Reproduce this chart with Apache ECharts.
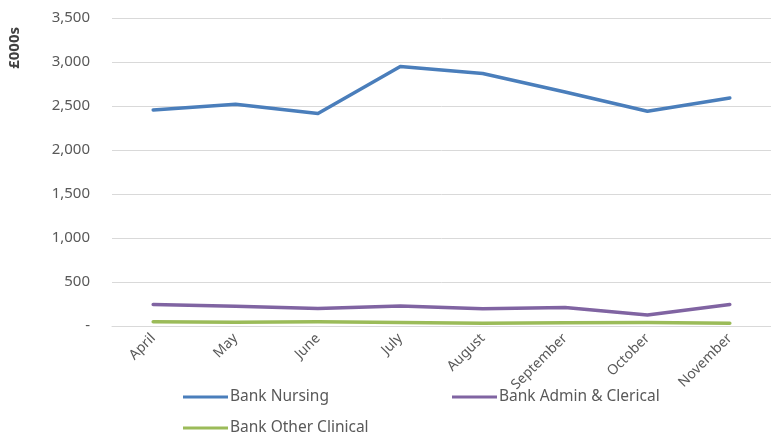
<!DOCTYPE html>
<html>
<head>
<meta charset="utf-8">
<script src="https://cdn.jsdelivr.net/npm/echarts@6/dist/echarts.min.js"></script>
<style>
  html, body { margin: 0; padding: 0; background: #ffffff; }
  #chart { width: 771px; height: 435px; }
</style>
</head>
<body>
<div id="chart"></div>
<script>
// Monthly bank staff spend, £000s
const months = ['April', 'May', 'June', 'July', 'August', 'September', 'October', 'November'];
const bankNursing = [2455, 2520, 2415, 2950, 2870, 2660, 2440, 2590];
const bankAdminClerical = [244, 225, 200, 228, 195, 210, 125, 245];
const bankOtherClinical = [48, 42, 48, 40, 32, 38, 40, 32];
const yTicks = { min: 0, max: 3500, interval: 500 };

const FONT = '"Noto Sans", sans-serif';
const GREY = '#595959';
const colors = { nursing: '#4a7ebb', admin: '#8064a2', other: '#9bbb59' };

function legendAt(name, left, top) {
  return {
    data: [name],
    left: left,
    top: top,
    orient: 'horizontal',
    icon: 'rect',
    itemWidth: 45,
    itemHeight: 3,
    itemGap: 0,
    padding: 0,
    selectedMode: false,
    textStyle: { fontFamily: FONT, fontSize: 15.5, color: GREY, padding: [0, 0, 0, -3], lineHeight: 18 }
  };
}

function lineSeries(name, data, color) {
  return {
    name: name,
    type: 'line',
    data: data,
    symbol: 'none',
    smooth: false,
    lineStyle: { width: 3.5, color: color, cap: 'round', join: 'round' },
    itemStyle: { color: color }
  };
}

const chart = echarts.init(document.getElementById('chart'), null, { renderer: 'canvas' });
chart.setOption({
  animation: false,
  backgroundColor: '#ffffff',
  grid: { left: 112, top: 18, right: -6, height: 308, containLabel: false },
  xAxis: {
    type: 'category',
    data: months,
    boundaryGap: true,
    axisLine: { show: true, lineStyle: { color: '#d9d9d9', width: 1 } },
    axisTick: { show: false },
    axisLabel: {
      interval: 0,
      rotate: 45,
      margin: 10,
      fontFamily: FONT,
      fontSize: 14,
      color: GREY
    }
  },
  yAxis: {
    type: 'value',
    min: yTicks.min,
    max: yTicks.max,
    interval: yTicks.interval,
    axisLine: { show: false },
    axisTick: { show: false },
    splitLine: { lineStyle: { color: '#d9d9d9', width: 1 } },
    axisLabel: {
      margin: 22,
      fontFamily: FONT,
      fontSize: 15,
      color: GREY,
      formatter: v => v === 0 ? '-' : v.toLocaleString('en-US')
    }
  },
  legend: [
    legendAt('Bank Nursing', 183, 388),
    legendAt('Bank Admin & Clerical', 452, 388),
    legendAt('Bank Other Clinical', 183, 419)
  ],
  graphic: [{
    type: 'text',
    left: 7,
    top: 27,
    rotation: Math.PI / 2,
    style: {
      text: '£000s',
      fontFamily: FONT,
      fontSize: 15,
      fontWeight: 'bold',
      fill: '#404040'
    }
  }],
  series: [
    lineSeries('Bank Nursing', bankNursing, colors.nursing),
    lineSeries('Bank Admin & Clerical', bankAdminClerical, colors.admin),
    lineSeries('Bank Other Clinical', bankOtherClinical, colors.other)
  ]
});
</script>
</body>
</html>
